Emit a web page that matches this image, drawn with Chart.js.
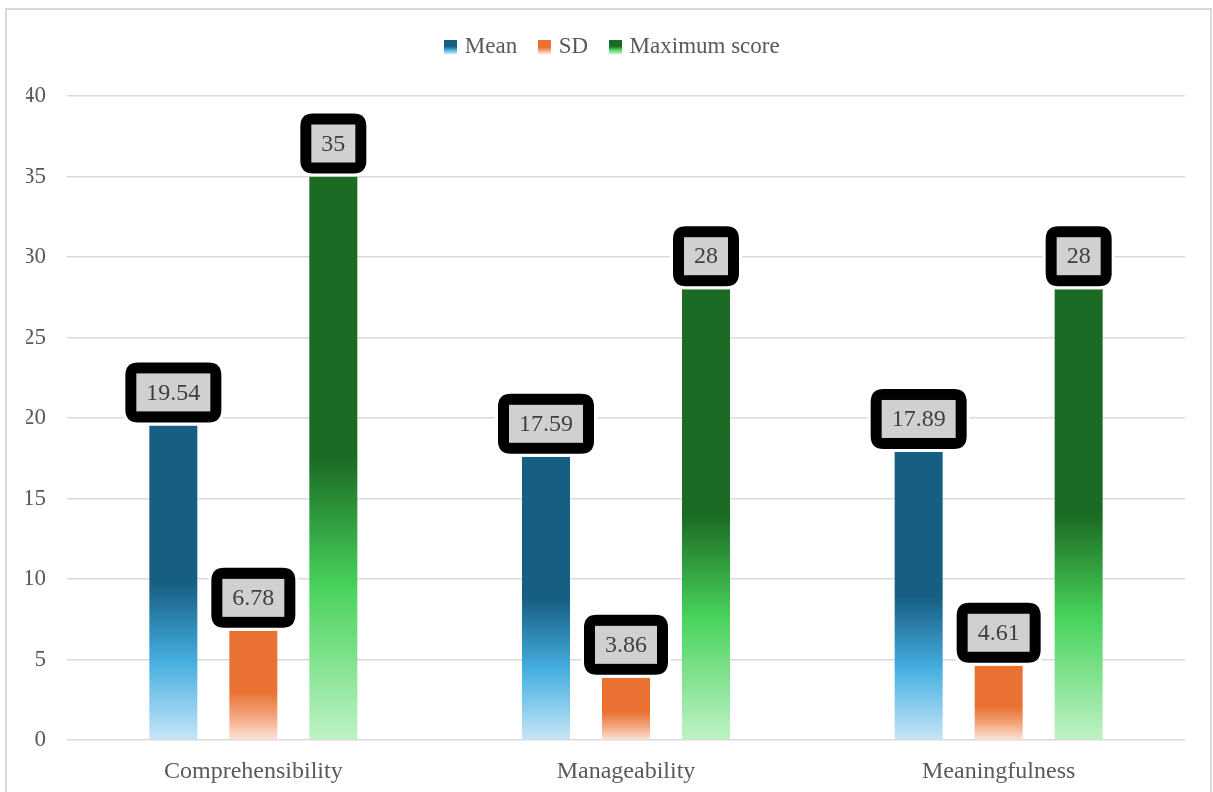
<!DOCTYPE html>
<html>
<head>
<meta charset="utf-8">
<title>Sense of coherence subscales</title>
<script src="https://cdn.jsdelivr.net/npm/chart.js@4.4.1/dist/chart.umd.min.js"></script>
<style>
  html, body { margin: 0; padding: 0; background: #fff; }
  #wrap { width: 1213px; height: 792px; position: relative; }
</style>
</head>
<body>
<div id="wrap"><canvas id="soc-chart" width="1213" height="792"></canvas></div>
<script>
// subscale categories and series
const CATEGORIES = ["Comprehensibility", "Manageability", "Meaningfulness"];
const MEAN_VALUES = [19.54, 17.59, 17.89];
const SD_VALUES = [6.78, 3.86, 4.61];
const MAX_VALUES = [35, 28, 28];
const SERIES_NAMES = ["Mean", "SD", "Maximum score"];
const Y_TICKS = [0, 5, 10, 15, 20, 25, 30, 35, 40];

const FONT = "'Liberation Serif', 'Times New Roman', serif";
const TEXT_COLOR = "#595959";
const GRID_COLOR = "#d9d9d9";

// gradient stops, bottom (0) to top (1) of each bar
const GRADIENTS = [
  [[0, "#c6e6f7"], [0.25, "#45aee0"], [0.5, "#175e83"], [1, "#175e83"]],
  [[0, "#fde4d8"], [0.22, "#f3a47c"], [0.45, "#e97132"], [1, "#e97132"]],
  [[0, "#bff2c6"], [0.27, "#49d35c"], [0.5, "#1b6b24"], [1, "#1b6b24"]],
];

function barGradient(ctx) {
  const chart = ctx.chart;
  const stops = GRADIENTS[ctx.datasetIndex];
  if (!chart.chartArea || ctx.type !== "data") return stops[2][1];
  const yScale = chart.scales.y;
  const base = yScale.getPixelForValue(0);
  const top = yScale.getPixelForValue(ctx.raw);
  const g = chart.ctx.createLinearGradient(0, base, 0, top);
  stops.forEach(([p, c]) => g.addColorStop(p, c));
  return g;
}

// small gradient swatches for the legend
function legendSwatch(stops) {
  const c = document.createElement("canvas");
  c.width = 13;
  c.height = 14;
  const g2 = c.getContext("2d");
  const g = g2.createLinearGradient(0, 14, 0, 0);
  stops.forEach(([p, c2]) => g.addColorStop(p, c2));
  g2.fillStyle = g;
  g2.fillRect(0, 0, 13, 14);
  return c;
}
const SWATCHES = GRADIENTS.map(legendSwatch);

function roundRect(ctx, x, y, w, h, r) {
  ctx.beginPath();
  ctx.moveTo(x + r, y);
  ctx.lineTo(x + w - r, y);
  ctx.quadraticCurveTo(x + w, y, x + w, y + r);
  ctx.lineTo(x + w, y + h - r);
  ctx.quadraticCurveTo(x + w, y + h, x + w - r, y + h);
  ctx.lineTo(x + r, y + h);
  ctx.quadraticCurveTo(x, y + h, x, y + h - r);
  ctx.lineTo(x, y + r);
  ctx.quadraticCurveTo(x, y, x + r, y);
  ctx.closePath();
}

// black rounded callouts with grey fill above each bar
const valueBoxes = {
  id: "valueBoxes",
  afterDatasetsDraw(chart) {
    const ctx = chart.ctx;
    ctx.save();
    ctx.font = `24px ${FONT}`;
    ctx.textAlign = "center";
    ctx.textBaseline = "middle";
    chart.data.datasets.forEach((ds, di) => {
      chart.getDatasetMeta(di).data.forEach((bar, i) => {
        const text = String(ds.data[i]);
        const tw = ctx.measureText(text).width;
        const w = tw + 42;
        const h = 60;
        const x = bar.x - w / 2;
        const y = bar.y - 3 - h;
        // white halo cuts the gridlines
        ctx.fillStyle = "#fff";
        roundRect(ctx, x - 3, y - 3, w + 6, h + 6, 15);
        ctx.fill();
        ctx.fillStyle = "#000";
        roundRect(ctx, x, y, w, h, 13);
        ctx.fill();
        ctx.fillStyle = "#d0d0d0";
        ctx.fillRect(x + 11, y + 11, w - 22, h - 22);
        ctx.fillStyle = "#404040";
        ctx.fillText(text, bar.x, y + h / 2 + 1);
      });
    });
    ctx.restore();
  },
};

// light frame around the chart
const chartFrame = {
  id: "chartFrame",
  beforeDraw(chart) {
    const ctx = chart.ctx;
    ctx.save();
    ctx.fillStyle = "#fff";
    ctx.fillRect(0, 0, chart.width, chart.height);
    ctx.strokeStyle = GRID_COLOR;
    ctx.lineWidth = 2;
    ctx.beginPath();
    ctx.moveTo(6, chart.height + 2);
    ctx.lineTo(6, 9);
    ctx.lineTo(1211, 9);
    ctx.lineTo(1211, chart.height + 2);
    ctx.stroke();
    ctx.restore();
  },
};

// fixed legend band height so the plot starts at the same place
const legendBand = {
  id: "legendBand",
  beforeInit(chart) {
    const fit = chart.legend.fit;
    chart.legend.fit = function () {
      fit.bind(chart.legend)();
      this.height = 85;
    };
  },
};

const datasets = [MEAN_VALUES, SD_VALUES, MAX_VALUES].map((vals, i) => ({
  label: SERIES_NAMES[i],
  data: vals,
  backgroundColor: barGradient,
  borderWidth: 0,
  barPercentage: 0.6,
  categoryPercentage: 0.644,
}));

new Chart(document.getElementById("soc-chart"), {
  type: "bar",
  data: { labels: CATEGORIES, datasets },
  plugins: [chartFrame, legendBand, valueBoxes],
  options: {
    responsive: false,
    animation: false,
    devicePixelRatio: 1,
    layout: { padding: { top: 11, left: 26, right: 12, bottom: 0 } },
    plugins: {
      tooltip: { enabled: false },
      legend: {
        position: "top",
        labels: {
          color: TEXT_COLOR,
          font: { family: FONT, size: 23 },
          usePointStyle: true,
          pointStyleWidth: 6,
          boxHeight: 14,
          padding: 24,
          generateLabels: (chart) => chart.data.datasets.map((ds, i) => ({
            text: ds.label,
            pointStyle: SWATCHES[i],
            fillStyle: GRADIENTS[i][2][1],
            strokeStyle: "transparent",
            lineWidth: 0,
            fontColor: TEXT_COLOR,
            datasetIndex: i,
          })),
        },
      },
    },
    scales: {
      x: {
        grid: { display: false },
        border: { display: false },
        ticks: {
          color: TEXT_COLOR,
          font: { family: FONT, size: 24 },
          padding: 9,
        },
        afterFit: (s) => { s.height = 52; },
      },
      y: {
        min: 0,
        max: 40,
        afterBuildTicks: (s) => { s.ticks = Y_TICKS.map((v) => ({ value: v })); },
        grid: { color: GRID_COLOR, lineWidth: 1.5, drawTicks: false },
        border: { display: false },
        ticks: {
          color: TEXT_COLOR,
          font: { family: FONT, size: 23 },
          padding: 21,
        },
        afterFit: (s) => { s.width = 41; },
      },
      // empty right-hand spacer so the plot area sits off-centre
      ySpacer: {
        position: "right",
        min: 0,
        max: 40,
        grid: { display: false },
        border: { display: false },
        ticks: { display: false },
        afterFit: (s) => { s.width = 16; },
      },
    },
  },
});
</script>
</body>
</html>
